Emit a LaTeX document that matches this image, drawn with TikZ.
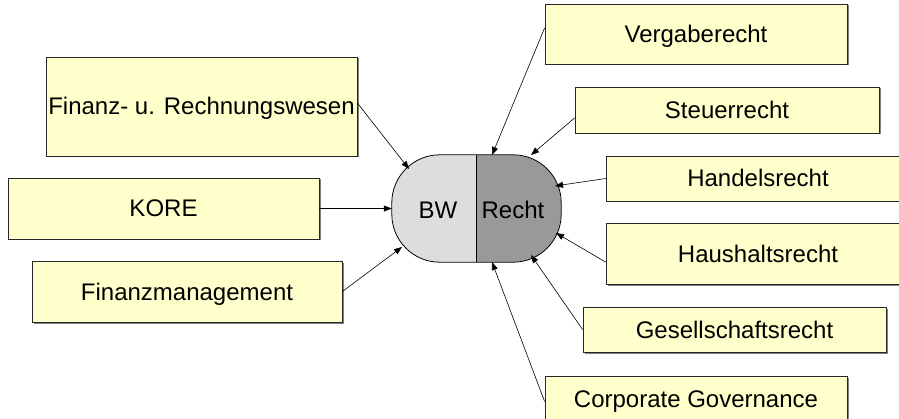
\documentclass[tikz,border=0pt]{standalone}
\usepackage{fontspec}
\setmainfont{Liberation Sans}
\usetikzlibrary{arrows.meta,shadows}
\definecolor{boxgelb}{HTML}{FFFFCC}
\definecolor{bwgrau}{HTML}{DDDDDD}
\definecolor{rechtgrau}{HTML}{999999}

\begin{document}
\begin{tikzpicture}[x=1pt,y=1pt,
		every node/.append style={font=\fontsize{24}{28}\selectfont},
		fachbox/.style={draw=black!85,fill=boxgelb,line width=0.8pt,inner sep=0pt,text height=17pt,text depth=0pt,
			drop shadow={shadow xshift=1.5pt,shadow yshift=-1.5pt,fill=black!50,opacity=1}},
		pfeil/.style={line width=0.6pt,-{Triangle[length=8pt,width=6pt]}}]
			\useasboundingbox (0,0) rectangle (899,418);
			\clip (0,0) rectangle (899,418);
			\node[fachbox,minimum width=311,minimum height=99] (fin) at (201.5,311.5) {Finanz- u. Rechnungswesen};
			\node[fachbox,minimum width=311,minimum height=61] (kore) at (163.5,209.5) {KORE};
			\node[fachbox,minimum width=310,minimum height=61] (fm) at (187,126.5) {Finanzmanagement};
			\node[fachbox,minimum width=302,minimum height=60] (verg) at (696,384) {Vergaberecht};
			\node[fachbox,minimum width=304,minimum height=46] (steu) at (727,308) {Steuerrecht};
			\node[fachbox,minimum width=304,minimum height=45] (hand) at (758,239.5) {Handelsrecht};
			\node[fachbox,minimum width=304,minimum height=61] (haus) at (758,164.5) {Haushaltsrecht};
			\node[fachbox,minimum width=303,minimum height=45] (ges) at (734.5,88.5) {Gesellschaftsrecht};
			\node[fachbox,minimum width=302,minimum height=45] (corp) at (696,19.5) {Corporate Governance};
			\node[minimum width=169,minimum height=107,inner sep=0pt,rounded corners=48pt,
				path picture={
					\fill[bwgrau,sharp corners] (path picture bounding box.south west) rectangle (path picture bounding box.north);
					\fill[rechtgrau,sharp corners] (path picture bounding box.south) rectangle (path picture bounding box.north east);
				}] (core) at (476.5,209.5) {};
			\draw[line width=0.8pt,rounded corners=48pt] (core.south west) rectangle (core.north east);
			\draw[line width=0.8pt] (core.south) -- (core.north);
			\node (bw) at (438,208) {BW};
			\node (recht) at (513,208) {Recht};
			\coordinate (t-fin) at (409,249);
			\coordinate (t-fm) at (402,171);
			\coordinate (t-verg) at (492,263);
			\coordinate (t-steu) at (531,263);
			\coordinate (t-hand) at (555,232);
			\coordinate (t-haus) at (556,185);
			\coordinate (t-ges) at (531,163);
			\coordinate (t-corp) at (492,156);
			\draw[pfeil] ([yshift=3.5pt]fin.east) -- (t-fin);
			\draw[pfeil] (kore.east) -- (core.west);
			\draw[pfeil] (fm.east) -- (t-fm);
			\draw[pfeil] ([yshift=6pt]verg.west) -- (t-verg);
			\draw[pfeil] ([yshift=-8pt]steu.west) -- (t-steu);
			\draw[pfeil] (hand.west) -- (t-hand);
			\draw[pfeil] ([yshift=-8.5pt]haus.west) -- (t-haus);
			\draw[pfeil] (ges.west) -- (t-ges);
			\draw[pfeil] ([yshift=-3pt]corp.west) -- (t-corp);
		\end{tikzpicture}
\end{document}
